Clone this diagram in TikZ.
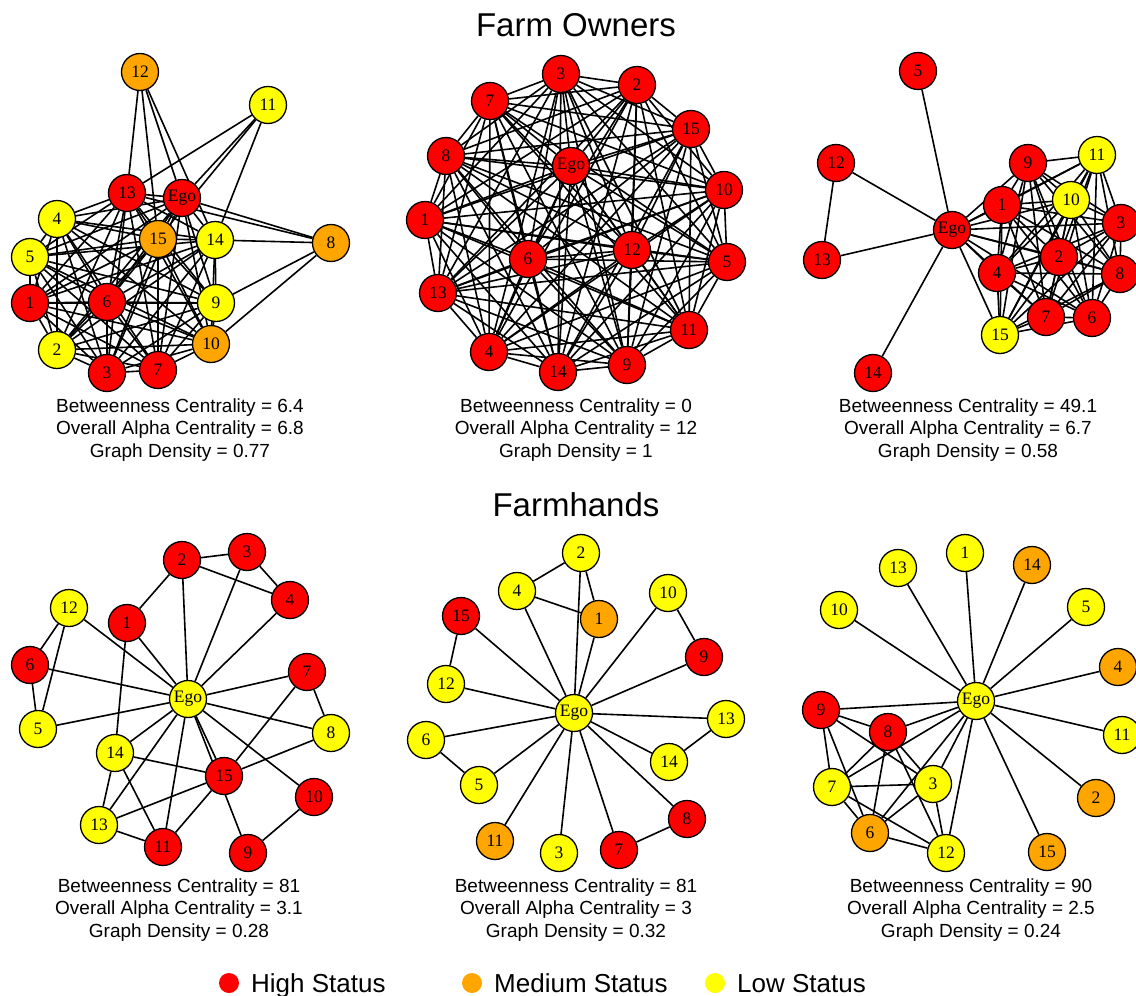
\documentclass[tikz,border=0pt]{standalone}
\usepackage{fontspec}
\setmainfont{Liberation Serif}
\newfontfamily\arialf{Liberation Sans}
\usetikzlibrary{backgrounds}
\definecolor{hiC}{HTML}{FF0000}
\definecolor{medC}{HTML}{FFA500}
\definecolor{loC}{HTML}{FFFF00}
\tikzset{
 vtx/.style={circle, draw=black, line width=1.3pt, minimum size=37pt, inner sep=0pt, font=\fontsize{17.5}{17.5}\selectfont},
 edge/.style={line width=1.6pt, black},
 stat/.style={font=\arialf\fontsize{19}{19}\selectfont, inner sep=0pt},
 ttl/.style={font=\arialf\fontsize{33}{33}\selectfont, inner sep=0pt},
 legtxt/.style={font=\arialf\fontsize{26}{26}\selectfont, inner sep=0pt, anchor=base west},
 legdot/.style={circle, inner sep=0pt, minimum size=20pt},
}
\begin{document}
\begin{tikzpicture}[x=1pt, y=-1pt]
\useasboundingbox (0,0) rectangle (1136,996);

% ---------- Panel A: Farm Owners, left ----------
\foreach \n/\c/\x/\y in {Ego/hiC/182/198, 1/hiC/30/303, 2/loC/57/350, 3/hiC/107/373, 4/loC/57/219, 5/loC/30/257, 6/hiC/107/302, 7/hiC/158/370, 8/medC/331/243, 9/loC/216/303, 10/medC/211/344, 11/loC/268/105, 12/medC/140/72, 13/hiC/127/193, 14/loC/215/240, 15/medC/158/239}
  \node[vtx, fill=\c] (A-\n) at (\x,\y) {\n};

% ---------- Panel B: Farm Owners, middle ----------
\foreach \n/\x/\y in {3/561/74, 2/637/85, 7/490/101, 15/691/129, 8/446/156, Ego/571/166, 10/724/190, 1/425/220, 12/632/250, 6/528/259, 5/727/262, 13/438/293, 11/689/330, 4/489/352, 9/627/365, 14/558/372}
  \node[vtx, fill=hiC] (B-\n) at (\x,\y) {\n};

% ---------- Panel C: Farm Owners, right ----------
\foreach \n/\c/\x/\y in {Ego/hiC/952/230, 1/hiC/1002/205, 2/hiC/1059/257, 3/hiC/1121/223, 4/hiC/997/273, 5/hiC/918/71, 6/hiC/1092/318, 7/hiC/1046/317, 8/hiC/1120/274, 9/hiC/1028/163, 10/loC/1071/200, 11/loC/1097/155, 12/hiC/836/163, 13/hiC/822/260, 14/hiC/873/373, 15/loC/1000/335}
  \node[vtx, fill=\c] (C-\n) at (\x,\y) {\n};

% ---------- Panel D: Farmhands, left ----------
\foreach \n/\c/\x/\y in {Ego/loC/188/699, 1/hiC/127/623, 2/hiC/182/560, 3/hiC/247/552, 4/hiC/290/600, 5/loC/38/729, 6/hiC/30/665, 7/hiC/307/672, 8/loC/331/733, 9/hiC/248/853, 10/hiC/314/797, 11/hiC/163/847, 12/loC/69/608, 13/loC/99/825, 14/loC/115/753, 15/hiC/224/776}
  \node[vtx, fill=\c] (D-\n) at (\x,\y) {\n};

% ---------- Panel E: Farmhands, middle ----------
\foreach \n/\c/\x/\y in {Ego/loC/574/713, 1/medC/599/619, 2/loC/581/553, 3/loC/559/853, 4/loC/517/591, 5/loC/479/785, 6/loC/426/740, 7/hiC/619/850, 8/hiC/687/819, 9/hiC/704/657, 10/loC/668/593, 11/medC/495/841, 12/loC/446/684, 13/loC/726/719, 14/loC/669/762, 15/hiC/461/616}
  \node[vtx, fill=\c] (E-\n) at (\x,\y) {\n};

% ---------- Panel F: Farmhands, right ----------
\foreach \n/\c/\x/\y in {Ego/loC/976/701, 1/loC/965/553, 2/medC/1096/798, 3/loC/933/784, 4/medC/1118/667, 5/loC/1086/607, 6/medC/870/833, 7/loC/832/787, 8/hiC/888/732, 9/hiC/821/710, 10/loC/839/610, 11/loC/1122/735, 12/loC/946/853, 13/loC/898/568, 14/medC/1032/565, 15/medC/1047/852}
  \node[vtx, fill=\c] (F-\n) at (\x,\y) {\n};

% ---------- Edges (behind the nodes) ----------
\begin{pgfonlayer}{background}
\fill[white] (0,0) rectangle (1136,996);
% A: dense core plus peripheral ties
\foreach \a [count=\i] in {Ego,1,2,3,4,5,6,7,9,10,13,14,15}{
  \foreach \b [count=\j] in {Ego,1,2,3,4,5,6,7,9,10,13,14,15}{
    \ifnum\j>\i \draw[edge] (A-\a) -- (A-\b); \fi
  }
}
\foreach \a/\b in {12/13, 12/15, 12/Ego, 12/14, 11/13, 11/Ego, 11/15, 11/14, 8/Ego, 8/13, 8/14, 8/9, 8/10}
  \draw[edge] (A-\a) -- (A-\b);
% B: complete graph
\foreach \a [count=\i] in {Ego,1,2,3,4,5,6,7,8,9,10,11,12,13,14,15}{
  \foreach \b [count=\j] in {Ego,1,2,3,4,5,6,7,8,9,10,11,12,13,14,15}{
    \ifnum\j>\i \draw[edge] (B-\a) -- (B-\b); \fi
  }
}
% C: dense cluster plus pendants
\foreach \a [count=\i] in {Ego,1,2,3,4,6,7,8,9,10,11,15}{
  \foreach \b [count=\j] in {Ego,1,2,3,4,6,7,8,9,10,11,15}{
    \ifnum\j>\i \draw[edge] (C-\a) -- (C-\b); \fi
  }
}
\foreach \a/\b in {Ego/5, Ego/12, Ego/13, Ego/14, 12/13}
  \draw[edge] (C-\a) -- (C-\b);
% D
\foreach \a/\b in {2/3, 2/4, 3/4, 2/1, 2/Ego, 3/Ego, 4/Ego, 12/6, 12/5, 12/Ego, 6/5, 6/Ego, 5/Ego, 1/Ego, 1/14, 7/Ego, 7/8, 7/15, 8/Ego, 8/15, Ego/14, Ego/13, Ego/11, Ego/15, Ego/10, Ego/9, 14/15, 14/13, 14/11, 13/15, 13/11, 15/11, 9/10}
  \draw[edge] (D-\a) -- (D-\b);
% E
\foreach \b in {1,2,3,4,5,6,7,8,9,10,11,12,13,14,15}
  \draw[edge] (E-Ego) -- (E-\b);
\foreach \a/\b in {2/4, 2/1, 4/1, 15/12, 10/9, 13/14, 6/5, 8/7}
  \draw[edge] (E-\a) -- (E-\b);
% F
\foreach \b in {1,2,3,4,5,6,7,8,9,10,11,12,13,14,15}
  \draw[edge] (F-Ego) -- (F-\b);
\foreach \a/\b in {9/8, 9/7, 9/6, 9/3, 8/7, 8/6, 8/3, 8/12, 7/3, 7/6, 7/12, 6/3, 6/12, 3/12}
  \draw[edge] (F-\a) -- (F-\b);
\end{pgfonlayer}

% ---------- Titles ----------
\node[ttl] (t1) at (576,25) {Farm Owners};
\node[ttl] (t2) at (576,505) {Farmhands};

% ---------- Statistics ----------
\node[stat] (sA1) at (180,408) {Betweenness Centrality = 6.4};
\node[stat] (sA2) at (180,430) {Overall Alpha Centrality = 6.8};
\node[stat] (sA3) at (180,453) {Graph Density = 0.77};
\node[stat] (sB1) at (576,408) {Betweenness Centrality = 0};
\node[stat] (sB2) at (576,430) {Overall Alpha Centrality = 12};
\node[stat] (sB3) at (576,453) {Graph Density = 1};
\node[stat] (sC1) at (968,408) {Betweenness Centrality = 49.1};
\node[stat] (sC2) at (968,430) {Overall Alpha Centrality = 6.7};
\node[stat] (sC3) at (968,453) {Graph Density = 0.58};
\node[stat] (sD1) at (179,888) {Betweenness Centrality = 81};
\node[stat] (sD2) at (179,910) {Overall Alpha Centrality = 3.1};
\node[stat] (sD3) at (179,933) {Graph Density = 0.28};
\node[stat] (sE1) at (576,888) {Betweenness Centrality = 81};
\node[stat] (sE2) at (576,910) {Overall Alpha Centrality = 3};
\node[stat] (sE3) at (576,933) {Graph Density = 0.32};
\node[stat] (sF1) at (971,888) {Betweenness Centrality = 90};
\node[stat] (sF2) at (971,910) {Overall Alpha Centrality = 2.5};
\node[stat] (sF3) at (971,933) {Graph Density = 0.24};

% ---------- Legend ----------
\node[legdot, fill=hiC] (l1) at (229,983) {};
\node[legtxt] (l1t) at (251,992) {High Status};
\node[legdot, fill=medC] (l2) at (472,983) {};
\node[legtxt] (l2t) at (494,992) {Medium Status};
\node[legdot, fill=loC] (l3) at (715,983) {};
\node[legtxt] (l3t) at (737,992) {Low Status};
\end{tikzpicture}
\end{document}
